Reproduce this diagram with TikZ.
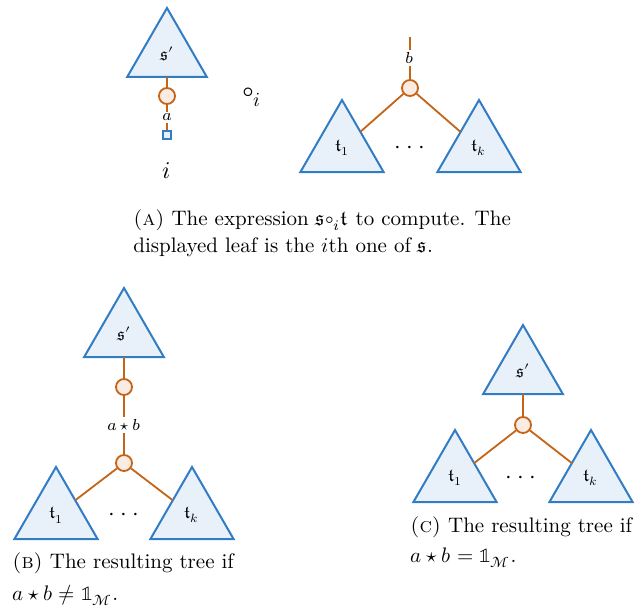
\documentclass[tikz,border=0pt]{standalone}
\usepackage{unicode-math}
\usetikzlibrary{shapes.geometric, positioning}
\definecolor{treeblue}{RGB}{50,124,196}
\definecolor{treefill}{RGB}{232,240,250}
\definecolor{edgeorange}{RGB}{196,100,22}
\definecolor{vertexfill}{RGB}{250,236,226}
\tikzset{
  stree/.style={regular polygon, regular polygon sides=3, minimum size=46pt, inner sep=0pt, outer sep=0pt, draw=treeblue, fill=treefill, line width=1pt, font=\small},
  ttree/.style={stree, minimum size=48pt},
  vertex/.style={circle, minimum size=8pt, inner sep=0pt, draw=edgeorange, fill=vertexfill, line width=0.9pt},
  leaf/.style={rectangle, minimum size=4pt, inner sep=0pt, draw=treeblue, fill=treefill, line width=0.8pt},
  edge/.style={draw=edgeorange, line width=0.9pt},
  lab/.style={fill=white, inner sep=1pt, font=\footnotesize},
  dots/.style={font=\large},
  capline/.style={anchor=base west, inner sep=0pt, font=\fontsize{10.5}{13}\selectfont}
}
\newcommand{\treedots}{${\cdot}\:{\cdot}\:{\cdot}$}
\begin{document}
\begin{tikzpicture}[x=0.5pt, y=-0.5pt]
\useasboundingbox (0,0) rectangle (636,610);
% (a) the expression to compute
\node (sA) [stree] at (167,54) {$\mathfrak{s}'$};
\node (cA) [vertex] at (167,96) {};
\node (leafA) [leaf] at (167,135) {};
\node (iA) [font=\large] at (167,171) {$i$};
\node (opA) [font=\Large] at (252,97) {$\circ_i$};
\draw [edge] (sA) -- (cA);
\draw [edge] (cA) -- node[lab] {$a$} (leafA);

\coordinate (rootA) at (410,37);
\node (cA2) [vertex] at (410,88) {};
\node (tA1) [ttree] at (342,148) {$\mathfrak{t}_1$};
\node (tAk) [ttree] at (479,148) {$\mathfrak{t}_k$};
\node (dotsA) [dots] at (410,150) {\treedots};
\draw [edge] (rootA) -- node[lab] {$b$} (cA2);
\draw [edge] (cA2) -- (tA1);
\draw [edge] (cA2) -- (tAk);

\node (capA1) [capline] at (133,225) {\textsc{(a)} The expression $\mathfrak{s}{\circ_i}\mathfrak{t}$ to compute. The};
\node (capA2) [capline] at (133,252) {displayed leaf is the $i$th one of $\mathfrak{s}$.};

% (b) a*b is not the unit
\node (sB) [stree] at (124,334) {$\mathfrak{s}'$};
\node (cB1) [vertex] at (124,387) {};
\node (cB2) [vertex] at (124,463) {};
\node (tB1) [ttree] at (56,515) {$\mathfrak{t}_1$};
\node (tBk) [ttree] at (192,515) {$\mathfrak{t}_k$};
\node (dotsB) [dots] at (124,517) {\treedots};
\draw [edge] (sB) -- (cB1);
\draw [edge] (cB1) -- node[lab] {$a\star b$} (cB2);
\draw [edge] (cB2) -- (tB1);
\draw [edge] (cB2) -- (tBk);

\node (capB1) [capline] at (12,568) {\textsc{(b)} The resulting tree if};
\node (capB2) [capline] at (12,600) {$a\star b\neq\mathbb{1}_{\mathscr{M}}$.};

% (c) a*b is the unit
\node (sC) [stree] at (523,371) {$\mathfrak{s}'$};
\node (cC) [vertex] at (523,425) {};
\node (tC1) [ttree] at (455,478) {$\mathfrak{t}_1$};
\node (tCk) [ttree] at (591,478) {$\mathfrak{t}_k$};
\node (dotsC) [dots] at (521,480) {\treedots};
\draw [edge] (sC) -- (cC);
\draw [edge] (cC) -- (tC1);
\draw [edge] (cC) -- (tCk);

\node (capC1) [capline] at (410,532) {\textsc{(c)} The resulting tree if};
\node (capC2) [capline] at (410,562) {$a\star b=\mathbb{1}_{\mathscr{M}}$.};
\end{tikzpicture}
\end{document}
